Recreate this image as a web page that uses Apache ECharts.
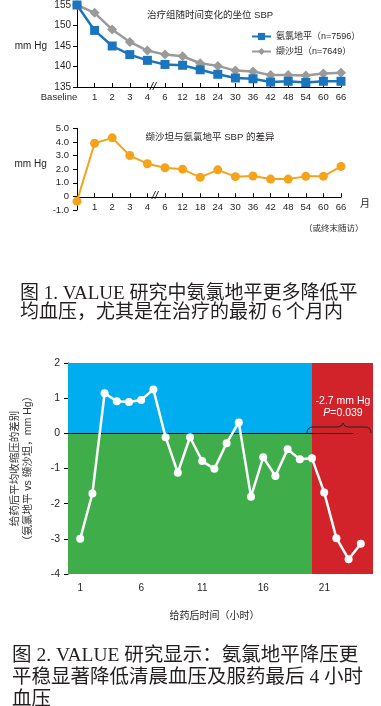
<!DOCTYPE html>
<html><head><meta charset="utf-8">
<script src="https://cdn.jsdelivr.net/npm/echarts@6/dist/echarts.min.js"></script>
<style>html,body{margin:0;padding:0;background:#fff}#c{width:381px;height:706px}</style>
</head><body><div id="c"></div>
<script>
// ---- data ----
const months = ['Baseline','1','2','3','4','6','12','18','24','30','36','42','48','54','60','66'];
const amlodipineSBP = [155,148.8,145.0,142.9,141.5,140.5,140.3,139.2,138.1,137.2,137.0,136.2,136.4,136.1,136.4,136.4];
const valsartanSBP  = [155,153.1,149.0,146.0,143.9,142.9,142.5,140.8,140.15,139.0,138.8,137.9,137.9,137.8,138.3,138.5];
const sbpDifference = [-0.35,3.9,4.3,3.0,2.4,2.1,2.0,1.4,1.95,1.45,1.5,1.27,1.27,1.47,1.47,2.2];
const hours = [1,2,3,4,5,6,7,8,9,10,11,12,13,14,15,16,17,18,19,20,21,22,23,24];
const hourlyDifference = [-3.0,-1.71,1.14,0.91,0.89,0.95,1.25,-0.11,-1.12,-0.11,-0.79,-1.01,-0.28,0.31,-1.80,-0.68,-1.21,-0.45,-0.74,-0.71,-1.68,-2.98,-3.58,-3.14];
const labelAmlo = '氨氯地平（n=7596）';
const labelVals = '缬沙坦（n=7649）';

const TXT = '#231F20';
const SANS = 'Liberation Sans, Arial, Noto Sans CJK SC, sans-serif';
const SERIF = 'Liberation Serif, DejaVu Serif, Noto Sans CJK SC, serif';

const chart = echarts.init(document.getElementById('c'), null, {renderer:'canvas'});
const axLine = {lineStyle:{color:'#000', width:1}};
const braceStyle = {fill:'none', stroke:'#222', lineWidth:1};

chart.setOption({
  animation:false,
  textStyle:{fontFamily:SANS},
  title:[
    {text:'治疗组随时间变化的坐位 SBP', left:205, top:6, textAlign:'center',
     textStyle:{fontSize:9.5, fontWeight:'normal', color:TXT, fontFamily:SANS}},
    {text:'缬沙坦与氨氯地平 SBP 的差异', left:205, top:128, textAlign:'center',
     textStyle:{fontSize:9.5, fontWeight:'normal', color:TXT, fontFamily:SANS}}
  ],
  legend:{left:246, top:27, orient:'vertical', itemGap:6, itemWidth:19, itemHeight:9,
    textStyle:{fontSize:9, color:TXT, fontFamily:SANS},
    data:[labelAmlo, labelVals]},
  grid:[
    {left:77, top:5, width:264, height:82},
    {left:77, top:128.3, width:264, height:81.7},
    {left:68, top:363, width:305, height:211},
    {left:68, top:363, width:293, height:211}
  ],
  xAxis:[
    {gridIndex:0, type:'category', data:months, boundaryGap:false,
     axisLine:axLine, axisTick:{inside:true, length:4, lineStyle:{color:'#000'}},
     axisLabel:{fontSize:9.5, color:TXT, margin:6, interval:0,
       formatter:v=> v==='Baseline' ? '{b|'+v+'}' : v,
       rich:{b:{fontSize:9.5, color:TXT, padding:[0,36,0,0]}}}},
    {gridIndex:1, type:'category', data:months, boundaryGap:false, offset:-12.7,
     axisLine:{onZero:false, lineStyle:{color:'#000'}}, axisTick:{inside:true, length:4, lineStyle:{color:'#000'}},
     axisLabel:{fontSize:9.5, color:TXT, margin:5, interval:0, formatter:v=> v==='Baseline' ? '' : v},
     name:'月', nameLocation:'end', nameGap:19,
     nameTextStyle:{fontSize:10, color:TXT, verticalAlign:'top', padding:[2,0,0,0]}},
    {gridIndex:2, type:'value', min:0, max:25, show:false},
    {gridIndex:3, type:'value', min:0, max:24, interval:1,
     axisLine:axLine, axisTick:{show:true, length:4, lineStyle:{color:'#000'}},
     splitLine:{show:false},
     axisLabel:{fontSize:10, color:TXT, margin:9, showMinLabel:true, showMaxLabel:true,
       formatter:v=> (v%5===1) ? String(v) : ''},
     name:'给药后时间（小时）', nameLocation:'middle', nameGap:37,
     nameTextStyle:{fontSize:10, color:TXT}}
  ],
  yAxis:[
    {gridIndex:0, type:'value', min:135, max:155, interval:5,
     axisLine:{show:true, lineStyle:{color:'#000'}}, axisTick:{show:true, length:4, lineStyle:{color:'#000'}},
     splitLine:{show:false}, axisLabel:{fontSize:10, color:TXT, margin:6},
     name:'mm Hg', nameLocation:'middle', nameRotate:0, nameGap:30,
     nameTextStyle:{fontSize:10, color:TXT}},
    {gridIndex:1, type:'value', min:-1, max:5, interval:1,
     axisLine:{show:true, lineStyle:{color:'#000'}}, axisTick:{show:true, length:4, lineStyle:{color:'#000'}},
     splitLine:{show:false},
     axisLabel:{fontSize:9.5, color:TXT, margin:8, formatter:v=> v===0 ? '0' : v.toFixed(1)},
     name:'mm Hg', nameLocation:'middle', nameRotate:0, nameGap:30,
     nameTextStyle:{fontSize:10, color:TXT, verticalAlign:'bottom'}},
    {gridIndex:2, type:'value', min:-4, max:2, interval:1,
     axisLine:{show:true, lineStyle:{color:'#000'}}, axisTick:{show:true, length:4, lineStyle:{color:'#000'}},
     splitLine:{show:false}, axisLabel:{fontSize:10.5, color:TXT, margin:8},
     name:'给药后平均收缩压的差别\n（氨氯地平 vs 缬沙坦，mm Hg）', nameLocation:'middle', nameGap:33,
     nameTextStyle:{fontSize:10.5, color:'#333', lineHeight:13}},
    {gridIndex:3, type:'value', min:-4, max:2, show:false}
  ],
  series:[
    {name:labelVals, type:'line', xAxisIndex:0, yAxisIndex:0, data:valsartanSBP,
     symbol:'diamond', symbolSize:10, itemStyle:{color:'#9A9A9A'},
     lineStyle:{color:'#9A9A9A', width:2.5}, z:3},
    {name:labelAmlo, type:'line', xAxisIndex:0, yAxisIndex:0, data:amlodipineSBP,
     symbol:'rect', symbolSize:9, itemStyle:{color:'#1B75BC'},
     lineStyle:{color:'#1B75BC', width:2.5}, z:4},
    {name:'差异', type:'line', xAxisIndex:1, yAxisIndex:1, data:sbpDifference,
     symbol:'circle', symbolSize:9, itemStyle:{color:'#F6A31C'},
     lineStyle:{color:'#F6A31C', width:2}, z:4},
    {name:'bg', type:'line', xAxisIndex:2, yAxisIndex:2, data:[], z:1, silent:true,
     markArea:{silent:true, data:[
       [{coord:[0,0], itemStyle:{color:'#00AEEF'}},{coord:[20,2]}],
       [{coord:[0,-4], itemStyle:{color:'#3EAD4A'}},{coord:[20,0]}],
       [{coord:[20,-4], itemStyle:{color:'#D2232A'}},{coord:[25,2]}]
     ]}},
    {name:'zero', type:'line', xAxisIndex:2, yAxisIndex:2, data:[], z:2, silent:true,
     markLine:{silent:true, symbol:'none', label:{show:false},
       lineStyle:{color:'#000', width:1, type:'solid'},
       data:[[{coord:[0,0]},{coord:[23.4,0]}]]}},
    {name:'hourly', type:'line', xAxisIndex:2, yAxisIndex:2,
     data:hours.map((h,i)=>[h, hourlyDifference[i]]),
     symbol:'circle', symbolSize:8, itemStyle:{color:'#fff'},
     lineStyle:{color:'#fff', width:2.5}, z:5}
  ],
  graphic:[
    {type:'text', x:150, y:81, style:{text:'//', font:'italic 11px Liberation Sans', fill:'#000'}},
    {type:'text', x:152, y:190, style:{text:'//', font:'italic 11px Liberation Sans', fill:'#000'}},
    {type:'text', x:304, y:224, style:{text:'（或终末随访）', font:'8.5px Noto Sans CJK SC', fill:TXT}},
    {type:'text', x:20, y:285, style:{text:'图 1. VALUE 研究中氨氯地平更多降低平\n均血压，尤其是在治疗的最初 6 个月内',
      font:'19px '+SERIF, fill:TXT, lineHeight:19}},
    {type:'text', x:12, y:645, style:{text:'图 2. VALUE 研究显示：氨氯地平降压更\n平稳显著降低清晨血压及服药最后 4 小时\n血压',
      font:'19.5px '+SERIF, fill:TXT, lineHeight:22}},
    {type:'text', x:343, y:401, z:10, style:{text:'-2.7 mm Hg', font:'10.5px Liberation Sans', fill:'#fff', align:'center', verticalAlign:'middle'}},
    {type:'text', x:343, y:413, z:10, style:{text:'{i|P}=0.039', align:'center', verticalAlign:'middle',
      font:'10.5px Liberation Sans', fill:'#fff',
      rich:{i:{fontStyle:'italic', fontSize:10.5, fill:'#fff', fontFamily:'Liberation Sans'}}}},
    {type:'bezierCurve', z:10, shape:{x1:307,y1:433,cpx1:307,cpy1:427,x2:313,y2:427}, style:braceStyle},
    {type:'line', z:10, shape:{x1:313,y1:427,x2:338,y2:427}, style:braceStyle},
    {type:'bezierCurve', z:10, shape:{x1:338,y1:427,cpx1:342,cpy1:427,x2:343,y2:423}, style:braceStyle},
    {type:'bezierCurve', z:10, shape:{x1:343,y1:423,cpx1:344,cpy1:427,x2:348,y2:427}, style:braceStyle},
    {type:'line', z:10, shape:{x1:348,y1:427,x2:365,y2:427}, style:braceStyle},
    {type:'bezierCurve', z:10, shape:{x1:365,y1:427,cpx1:371,cpy1:427,x2:371,y2:433}, style:braceStyle}
  ]
});
</script></body></html>
